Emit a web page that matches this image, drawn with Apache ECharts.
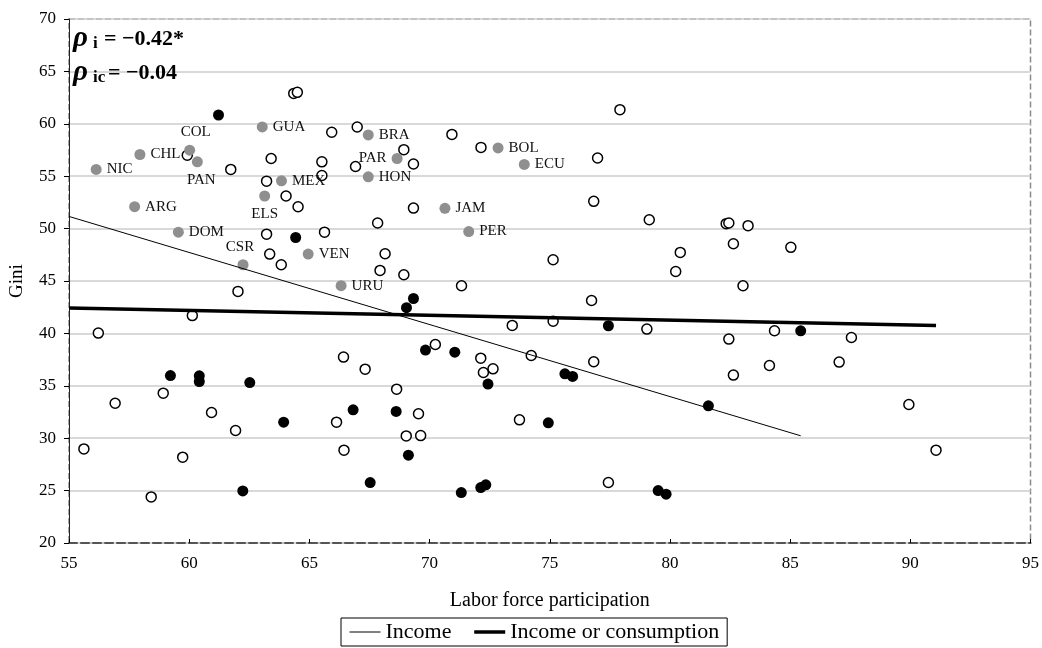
<!DOCTYPE html>
<html>
<head>
<meta charset="utf-8">
<script src="https://cdn.jsdelivr.net/npm/echarts@6/dist/echarts.min.js"></script>
<style>
html,body{margin:0;padding:0;background:#fff;}
#chart{width:1042px;height:648px;}
</style>
</head>
<body>
<div id="chart"></div>
<script>
// Income (open circles)
const incomeLfp = [64.35,64.5,65.93,66.99,59.92,63.41,65.52,66.92,61.73,63.22,65.52,64.03,64.53,63.22,65.63,63.35,63.83,62.03,60.13,
  70.93,68.93,72.14,69.33,76.99,69.33,76.83,67.84,68.15,67.94,68.93,75.14,71.33,76.74,77.92,79.14,82.34,82.45,83.25,82.64,85.03,80.43,80.24,83.04,
  56.22,66.42,67.32,58.92,56.92,60.93,61.93,66.13,55.62,59.73,66.44,58.42,73.44,75.14,79.04,70.24,72.13,74.23,76.83,72.24,72.64,68.63,69.54,73.74,69.03,69.63,77.44,
  82.45,84.35,87.55,82.64,84.14,87.04,89.94,91.07];
const incomeGini = [62.9,63.0,59.19,59.70,57.0,56.69,56.37,55.93,55.65,54.53,55.07,53.11,52.09,49.47,49.66,47.57,46.55,44.01,41.7,
  58.99,57.53,57.75,56.16,56.74,51.96,52.60,50.53,47.60,46.01,45.60,47.03,44.55,43.14,61.35,50.85,50.47,50.53,50.28,48.56,48.21,47.73,45.91,44.55,
  40.03,37.74,36.59,34.30,33.34,32.45,30.73,31.53,28.98,28.19,28.86,24.40,40.76,41.17,40.41,38.94,37.64,37.89,37.29,36.27,36.62,34.68,32.33,31.75,30.22,30.25,25.77,
  39.46,40.25,39.61,36.02,36.94,37.26,33.22,28.86];

// Income or consumption (filled black)
const incConsLfp = [61.22,64.43,69.33,69.04,59.22,60.42,60.42,62.52,63.93,62.23,66.82,67.53,77.44,69.83,71.05,75.63,75.95,72.43,68.61,74.94,69.12,71.32,72.13,72.34,79.51,79.84,81.60,85.44];
const incConsGini = [60.84,49.15,43.33,42.45,35.98,35.95,35.41,35.31,31.53,24.97,32.71,25.77,40.73,38.41,38.21,36.14,35.89,35.16,32.55,31.47,28.38,24.81,25.29,25.55,25.0,24.66,33.09,40.25];

// Latin American countries (gray, labelled)
const latamCodes = ['GUA','COL','CHL','PAN','NIC','MEX','ELS','ARG','DOM','CSR','VEN','URU','BRA','PAR','HON','BOL','ECU','JAM','PER'];
const latamLfp  = [63.04,60.02,57.95,60.34,56.13,63.84,63.14,57.73,59.55,62.24,64.95,66.32,67.45,68.65,67.45,72.85,73.94,70.64,71.63];
const latamGini = [59.7,57.48,57.07,56.37,55.65,54.56,53.11,52.09,49.66,46.55,47.57,44.55,58.94,56.69,54.94,57.70,56.12,51.94,49.72];

// Fitted lines
const incomeFitLfp = [55, 85.44];
const incomeFitGini = [51.16, 30.23];
const incConsFitLfp = [55, 91.07];
const incConsFitGini = [42.42, 40.76];

const xTicks = [55,60,65,70,75,80,85,90,95];
const yTicks = [20,25,30,35,40,45,50,55,60,65,70];

const zip = (a, b) => a.map((v, i) => [v, b[i]]);
const labelPlace = {COL:'top', PAN:'bottom', ELS:'bottom', CSR:'top', PAR:'left'};
const labelOffset = {COL:[6,0], PAN:[4,0], CSR:[-3,0]};

const serif = 'Liberation Serif';
const chart = echarts.init(document.getElementById('chart'), null, {renderer:'canvas'});

const latamData = latamCodes.map((c, i) => ({
  name: c,
  value: [latamLfp[i], latamGini[i]],
  label: {position: labelPlace[c] || 'right', offset: labelOffset[c] || [0,0]}
}));

const rhoFont = 'italic bold 29px "Liberation Serif"';
const subFont = 'bold 17px "Liberation Serif"';
const valFont = 'bold 22px "Liberation Serif"';

const option = {
  backgroundColor: '#fff',
  animation: false,
  grid: {left: 64, right: 10, top: 19, bottom: 105, show: true, borderColor: '#8a8a8a', borderWidth: 1.5, borderType: 'dashed'},
  xAxis: {
    type: 'value', min: xTicks[0], max: xTicks[xTicks.length-1], interval: 5,
    name: 'Labor force participation', nameLocation: 'middle', nameGap: 48,
    nameTextStyle: {fontFamily: serif, fontSize: 20, color: '#000'},
    axisLine: {show: true, lineStyle: {color: '#555', width: 2, type: 'dashed'}},
    axisTick: {show: true, inside: true, length: 4, lineStyle: {color: '#000'}},
    axisLabel: {fontFamily: serif, fontSize: 17, color: '#000', margin: 12},
    splitLine: {show: false}
  },
  yAxis: {
    type: 'value', min: yTicks[0], max: yTicks[yTicks.length-1], interval: 5,
    name: 'Gini', nameLocation: 'middle', nameGap: 42, nameRotate: 90,
    nameTextStyle: {fontFamily: serif, fontSize: 19, color: '#000'},
    axisLine: {show: true, lineStyle: {color: '#222', width: 1}},
    axisTick: {show: true, length: 5, lineStyle: {color: '#000'}},
    axisLabel: {fontFamily: serif, fontSize: 17, color: '#000', margin: 13},
    splitLine: {show: true, lineStyle: {color: '#cdcdcd', width: 1.5}}
  },
  legend: {
    data: [
      {name: 'Income', lineStyle: {width: 1}},
      {name: 'Income or consumption', lineStyle: {width: 3.5}}
    ],
    left: 341, top: 618,
    padding: [3, 8, 3, 8],
    borderColor: '#000', borderWidth: 1,
    itemWidth: 31, itemHeight: 12, itemGap: 21,
    itemStyle: {opacity: 0},
    textStyle: {fontFamily: serif, fontSize: 22, color: '#000'}
  },
  graphic: [
    {type:'text', z: 100, left: 73, top: 24, style:{text:'ρ', font: rhoFont, fill:'#000'}},
    {type:'text', z: 100, left: 93, top: 35, style:{text:'i', font: subFont, fill:'#000'}},
    {type:'text', z: 100, left: 104, top: 28, style:{text:'= −0.42*', font: valFont, fill:'#000'}},
    {type:'text', z: 100, left: 73, top: 58, style:{text:'ρ', font: rhoFont, fill:'#000'}},
    {type:'text', z: 100, left: 93, top: 69, style:{text:'ic', font: subFont, fill:'#000'}},
    {type:'text', z: 100, left: 108, top: 62, style:{text:'= −0.04', font: valFont, fill:'#000'}}
  ],
  series: [
    {
      name: 'incomeOpen', type: 'scatter', symbol: 'circle', symbolSize: 10,
      itemStyle: {color: '#fff', borderColor: '#000', borderWidth: 1.5, opacity: 1},
      data: zip(incomeLfp, incomeGini), z: 3
    },
    {
      name: 'latam', type: 'scatter', symbol: 'circle', symbolSize: 11,
      itemStyle: {color: '#8f8f8f', borderWidth: 0, opacity: 1},
      label: {show: true, formatter: '{b}', fontFamily: serif, fontSize: 15, color: '#111', distance: 5},
      data: latamData, z: 3
    },
    {
      name: 'incCons', type: 'scatter', symbol: 'circle', symbolSize: 11,
      itemStyle: {color: '#000', opacity: 1},
      data: zip(incConsLfp, incConsGini), z: 3
    },
    {
      name: 'Income', type: 'line', symbol: 'none', silent: true,
      lineStyle: {color: '#000', width: 1},
      itemStyle: {color: '#000'},
      data: zip(incomeFitLfp, incomeFitGini), z: 4
    },
    {
      name: 'Income or consumption', type: 'line', symbol: 'none', silent: true,
      lineStyle: {color: '#000', width: 3.5},
      itemStyle: {color: '#000'},
      data: zip(incConsFitLfp, incConsFitGini), z: 4
    }
  ]
};
chart.setOption(option);
</script>
</body>
</html>
